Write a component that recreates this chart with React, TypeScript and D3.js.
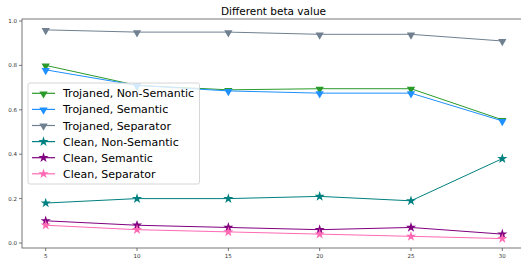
import * as d3 from 'd3';

const betas = [5, 10, 15, 20, 25, 30];
const trojanedNonSemantic = [0.8, 0.71, 0.69, 0.695, 0.695, 0.555];
const trojanedSemantic = [0.78, 0.71, 0.685, 0.675, 0.675, 0.55];
const trojanedSeparator = [0.96, 0.95, 0.95, 0.94, 0.94, 0.91];
const cleanNonSemantic = [0.18, 0.2, 0.2, 0.21, 0.19, 0.38];
const cleanSemantic = [0.1, 0.08, 0.07, 0.06, 0.07, 0.04];
const cleanSeparator = [0.08, 0.06, 0.05, 0.04, 0.03, 0.02];
const yTicks = [0, 0.2, 0.4, 0.6, 0.8, 1.0];

type Series = { name: string; values: number[]; color: string; marker: 'tri' | 'star' };

const series: Series[] = [
  { name: 'Trojaned, Non-Semantic', values: trojanedNonSemantic, color: '#2a9a2a', marker: 'tri' },
  { name: 'Trojaned, Semantic', values: trojanedSemantic, color: '#1e90ff', marker: 'tri' },
  { name: 'Trojaned, Separator', values: trojanedSeparator, color: '#708090', marker: 'tri' },
  { name: 'Clean, Non-Semantic', values: cleanNonSemantic, color: '#008080', marker: 'star' },
  { name: 'Clean, Semantic', values: cleanSemantic, color: '#800080', marker: 'star' },
  { name: 'Clean, Separator', values: cleanSeparator, color: '#ff69b4', marker: 'star' },
];

const W = 521;
const H = 261;
const plot = { left: 22, right: 525, top: 19, bottom: 248 };

const App = () => {
  const x = d3.scaleLinear().domain([5, 30]).range([45.7, 502.3]);
  const y = d3.scaleLinear().domain([0, 1]).range([243, 21]);
  const line = d3
    .line<number>()
    .x((_, i) => x(betas[i]))
    .y((v) => y(v));

  const triPath = d3.symbol(d3.symbolTriangle, 30)()!;
  const starPath = d3.symbol(d3.symbolStar, 32)()!;
  const marker = (m: Series['marker'], color: string, cx: number, cy: number, key: string) =>
    m === 'tri' ? (
      <path key={key} d={triPath} fill={color} transform={`translate(${cx},${cy + 0.5}) rotate(180)`} />
    ) : (
      <path key={key} d={starPath} fill={color} transform={`translate(${cx},${cy})`} />
    );

  const font = 'DejaVu Sans, sans-serif';

  return (
    <svg width={W} height={H} style={{ position: 'absolute', left: 0, top: 0 }} fontFamily={font}>
      <rect width={W} height={H} fill="#fff" />
      <text x={(plot.left + plot.right) / 2} y={15} textAnchor="middle" fontSize={10.5} fill="#000">
        Different beta value
      </text>

      {/* series */}
      {series.map((s) => (
        <g key={s.name}>
          <path d={line(s.values)!} fill="none" stroke={s.color} strokeWidth={1} />
          {s.values.map((v, i) => marker(s.marker, s.color, x(betas[i]), y(v), `${s.name}-${i}`))}
        </g>
      ))}

      {/* spines */}
      <rect
        x={plot.left}
        y={plot.top}
        width={plot.right - plot.left}
        height={plot.bottom - plot.top}
        fill="none"
        stroke="#555"
        strokeWidth={0.8}
      />

      {/* y axis */}
      {yTicks.map((t) => (
        <g key={t}>
          <line x1={plot.left - 3} x2={plot.left} y1={y(t)} y2={y(t)} stroke="#555" strokeWidth={0.8} />
          <text x={plot.left - 5} y={y(t) + 2} textAnchor="end" fontSize={5.5} fill="#333">
            {t.toFixed(1)}
          </text>
        </g>
      ))}

      {/* x axis */}
      {betas.map((t) => (
        <g key={t}>
          <line x1={x(t)} x2={x(t)} y1={plot.bottom} y2={plot.bottom + 3} stroke="#555" strokeWidth={0.8} />
          <text x={x(t)} y={plot.bottom + 9.5} textAnchor="middle" fontSize={5.5} fill="#333">
            {t}
          </text>
        </g>
      ))}

      {/* legend */}
      <g>
        <rect x={28} y={83} width={171.5} height={101} rx={2} fill="#fff" fillOpacity={0.8} stroke="#ccc" strokeWidth={0.8} />
        {series.map((s, i) => {
          const cy = 93.3 + i * 16.1;
          return (
            <g key={s.name}>
              <line x1={32} x2={55} y1={cy} y2={cy} stroke={s.color} strokeWidth={1.2} />
              {marker(s.marker, s.color, 43.5, cy, `lg-${i}`)}
              <text x={63} y={cy + 4} fontSize={11} fill="#000">
                {s.name}
              </text>
            </g>
          );
        })}
      </g>
    </svg>
  );
};

export default App;
